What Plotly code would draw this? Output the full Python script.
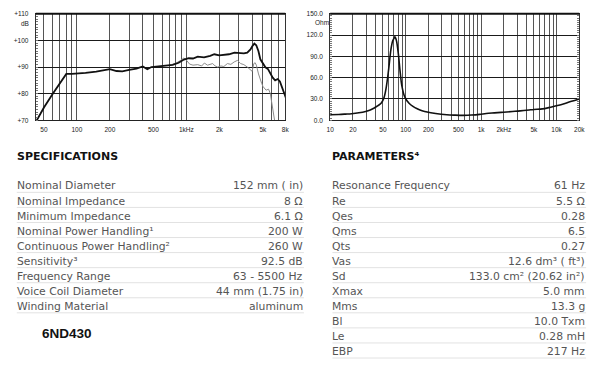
import numpy as np
import plotly.graph_objects as go

W, H = 600, 369

# ---------------- Frequency response (SPL) data ----------------
spl_freq_on = [43, 50, 60, 70, 80, 90, 100, 120, 150, 175, 200, 230, 260, 300, 350, 400, 440, 480,
               550, 650, 750, 850, 950, 1050, 1150, 1270, 1450, 1650, 1800, 2000, 2200, 2450, 2750,
               3050, 3350, 3600, 3850, 4000, 4180, 4350, 4550, 4740, 5000, 5270, 5550, 5840, 6150,
               6470, 6830, 7150, 7460, 7800, 8130]
spl_db_on = [70.0, 74.8, 79.9, 84.0, 87.4, 87.4, 87.5, 87.8, 88.3, 88.8, 89.2, 88.5, 88.4, 88.9,
             89.4, 90.2, 89.2, 90.0, 90.2, 90.4, 90.8, 91.6, 92.8, 93.3, 93.2, 93.9, 93.6, 94.2,
             94.8, 94.4, 94.5, 94.8, 95.4, 95.3, 95.1, 95.4, 96.6, 97.8, 98.8, 98.2, 96.0, 92.9,
             91.5, 89.9, 89.3, 87.4, 86.0, 85.0, 85.5, 84.6, 82.6, 81.0, 78.3]

spl_freq_off = [700, 800, 880, 950, 1000, 1070, 1150, 1270, 1380, 1460, 1560, 1650, 1740, 1830,
                1930, 2070, 2200, 2370, 2550, 2730, 2930, 3130, 3350, 3600, 3850, 3990, 4130,
                4250, 4360, 4560, 4880, 5030, 5350, 5630, 5840, 6120, 6320, 6450]
spl_db_off = [90.6, 91.4, 92.4, 93.4, 92.6, 91.1, 90.7, 90.9, 90.4, 91.5, 90.7, 91.0, 91.3, 90.4,
              90.0, 90.4, 90.2, 91.3, 91.0, 91.9, 92.5, 91.3, 90.9, 90.0, 88.8, 88.4, 91.3, 91.6,
              90.7, 87.4, 83.8, 82.6, 81.3, 81.7, 80.1, 74.6, 71.0, 69.0]

spl_grid_x = [50, 60, 70, 80, 90, 100, 200, 300, 400, 500, 600, 700, 800, 900, 1000,
              2000, 3000, 4000, 5000, 6000, 7000, 8000]
spl_x_text = ["50", "", "", "", "", "100", "200", "", "", "500", "", "", "", "", "1kHz",
              "2k", "", "", "5k", "", "", "8k"]
spl_y_ticks = [70, 80, 90, 100, 110]
spl_y_text = ["+70", "+80", "+90", "+100", "+110"]

# ---------------- Impedance data ----------------
imp_freq = [10, 13, 16, 19.2, 24, 29.5, 34, 37.9, 43, 47.3, 51.3, 55, 59.6, 63.9, 67.5, 70.7, 72,
            73.5, 75.8, 79.8, 84.7, 89, 97.3, 111, 125, 142.6, 165, 193, 250, 352, 450, 582, 750,
            957, 1170, 1500, 1970, 2600, 3300, 4320, 5000, 6500, 7900, 10000, 12000, 15000, 20000]
imp_ohm = [7.8, 8.2, 8.7, 9.2, 10.5, 12.4, 14.5, 17.0, 20.5, 24.0, 30.8, 44.7, 72.0, 100.0, 112.0,
           116.0, 117.5, 116.0, 111.5, 95.0, 67.7, 49.0, 33.0, 24.0, 19.5, 16.1, 13.5, 11.5, 9.5,
           7.8, 7.2, 6.9, 7.3, 8.3, 9.5, 10.4, 11.3, 12.3, 13.2, 14.5, 15.2, 16.0, 17.8, 20.5,
           22.5, 26.0, 30.0]

imp_grid_x = [10, 20, 30, 40, 50, 60, 70, 80, 90, 100, 200, 300, 400, 500, 600, 700, 800, 900,
              1000, 2000, 3000, 4000, 5000, 6000, 7000, 8000, 9000, 10000, 20000]
imp_x_text = ["10", "20", "", "", "50", "", "", "", "", "100", "200", "", "", "500", "", "", "",
              "", "1k", "2kHz", "", "", "5k", "", "", "", "", "10k", "20k"]
imp_y_ticks = [0, 30, 60, 90, 120, 150]
imp_y_text = ["0.0", "30.0", "60.0", "90.0", "120.0", "150.0"]

# ---------------- Tables ----------------
spec_title = "SPECIFICATIONS"
spec_labels = ["Nominal Diameter", "Nominal Impedance", "Minimum Impedance",
               "Nominal Power Handling\u00b9", "Continuous Power Handling\u00b2", "Sensitivity\u00b3",
               "Frequency Range", "Voice Coil Diameter", "Winding Material"]
spec_values = ["152 mm ( in)", "8 \u03a9", "6.1 \u03a9", "200 W", "260 W", "92.5 dB",
               "63 - 5500 Hz", "44 mm (1.75 in)", "aluminum"]

param_title = "PARAMETERS\u2074"
param_labels = ["Resonance Frequency", "Re", "Qes", "Qms", "Qts", "Vas", "Sd", "Xmax", "Mms",
                "Bl", "Le", "EBP"]
param_values = ["61 Hz", "5.5 \u03a9", "0.28", "6.5", "0.27", "12.6 dm\u00b3 ( ft\u00b3)",
                "133.0 cm\u00b2 (20.62 in\u00b2)", "5.0 mm", "13.3 g", "10.0 Txm", "0.28 mH", "217 Hz"]

model_name = "6ND430"

# ---------------- helpers ----------------
def fx(px):
    return px / W


def fy(py):
    return 1 - py / H


TOP, BOT = 10.0, 118.5
PAD = 2  # annotation inner padding (borderpad + borderwidth)
tick_font = dict(family="Liberation Sans, Arial", size=6.5, color="#222")
table_font = dict(family="DejaVu Sans", size=10.8, color="#555")
head_font = dict(family="DejaVu Sans", size=11, color="#111")

fig = go.Figure()

fig.add_trace(go.Scatter(x=spl_freq_off, y=spl_db_off, mode="lines",
                         line=dict(color="#8c8c8c", width=1), xaxis="x", yaxis="y",
                         showlegend=False, hoverinfo="skip"))
fig.add_trace(go.Scatter(x=spl_freq_on, y=spl_db_on, mode="lines",
                         line=dict(color="#111", width=1.8), xaxis="x", yaxis="y",
                         showlegend=False, hoverinfo="skip"))
fig.add_trace(go.Scatter(x=imp_freq, y=imp_ohm, mode="lines", line_shape="spline",
                         line=dict(color="#111", width=1.6), xaxis="x2", yaxis="y2",
                         showlegend=False, hoverinfo="skip"))

common_x = dict(type="log", showgrid=True, gridcolor="#555", gridwidth=1,
                ticks="outside", ticklen=3, tickcolor="rgba(0,0,0,0)", tickfont=tick_font,
                showline=True, linecolor="#222", linewidth=1, zeroline=False, fixedrange=True)
common_y = dict(showgrid=True, gridcolor="#1a1a1a", gridwidth=1,
                ticks="outside", ticklen=5, tickcolor="rgba(0,0,0,0)", tickfont=tick_font,
                showline=True, linecolor="#333", linewidth=1, zeroline=False, fixedrange=True)

fig.update_layout(
    width=W, height=H, margin=dict(l=0, r=0, t=0, b=0),
    paper_bgcolor="white", plot_bgcolor="white",
    xaxis=dict(common_x, domain=[fx(32.3), fx(286)], anchor="y",
               range=[np.log10(42.1), np.log10(8000)],
               tickvals=spl_grid_x, ticktext=spl_x_text, mirror=True),
    yaxis=dict(common_y, domain=[fy(BOT), fy(TOP)], anchor="x", range=[70, 110],
               tickvals=spl_y_ticks, ticktext=spl_y_text, mirror=True,
               minor=dict(ticks="inside", ticklen=2, dtick=1, tickcolor="#777", showgrid=False)),
    xaxis2=dict(common_x, domain=[fx(331.7), fx(585)], anchor="y2",
                range=[1, np.log10(20000)],
                tickvals=imp_grid_x, ticktext=imp_x_text, mirror=True),
    yaxis2=dict(common_y, domain=[fy(BOT), fy(TOP)], anchor="x2", range=[0, 150],
                tickvals=imp_y_ticks, ticktext=imp_y_text, mirror="allticks",
                minor=dict(ticks="inside", ticklen=2, dtick=3, tickcolor="#777", showgrid=False)),
)

shapes = []
# thicker top borders
for xr, yr in (("x domain", "y domain"), ("x2 domain", "y2 domain")):
    shapes.append(dict(type="line", xref=xr, yref=yr, x0=0, x1=1, y0=1, y1=1,
                       line=dict(color="#111", width=2)))

annotations = []
# unit labels
annotations.append(dict(x=fx(25.5 + PAD), y=fy(19.5), xref="paper", yref="paper", text="dB",
                        showarrow=False, xanchor="right", yanchor="middle", font=tick_font))
annotations.append(dict(x=fx(330.5 + PAD), y=fy(18.5), xref="paper", yref="paper", text="Ohm",
                        showarrow=False, xanchor="right", yanchor="middle", font=tick_font))

ROW0, STEP = 185.5, 15.35


def add_table(title, labels, values, x_left, x_right):
    annotations.append(dict(x=fx(x_left - PAD), y=fy(155.5), xref="paper", yref="paper",
                            text="<b>%s</b>" % title, showarrow=False, xanchor="left",
                            yanchor="middle", font=head_font))
    for i, (lab, val) in enumerate(zip(labels, values)):
        yc = ROW0 + i * STEP
        annotations.append(dict(x=fx(x_left - PAD), y=fy(yc), xref="paper", yref="paper",
                                text=lab, showarrow=False, xanchor="left", yanchor="middle",
                                font=table_font))
        annotations.append(dict(x=fx(x_right + PAD), y=fy(yc), xref="paper", yref="paper",
                                text=val, showarrow=False, xanchor="right", yanchor="middle",
                                font=table_font))
        ys = yc + 6.5
        shapes.append(dict(type="line", xref="paper", yref="paper", x0=fx(x_left),
                           x1=fx(x_right + 1), y0=fy(ys), y1=fy(ys),
                           line=dict(color="#e2e2e2", width=1)))


add_table(spec_title, spec_labels, spec_values, 13, 304)
add_table(param_title, param_labels, param_values, 334, 591)

annotations.append(dict(x=fx(38.5 - PAD), y=fy(336), xref="paper", yref="paper",
                        text="<b>%s</b>" % model_name, showarrow=False, xanchor="left",
                        yanchor="middle",
                        font=dict(family="Liberation Sans, Arial", size=13.5, color="#111")))

fig.update_layout(shapes=shapes, annotations=annotations)

fig.write_html("out.html", config={"displayModeBar": False},
               post_script="document.body.style.margin='0';document.body.style.overflow='hidden';")
